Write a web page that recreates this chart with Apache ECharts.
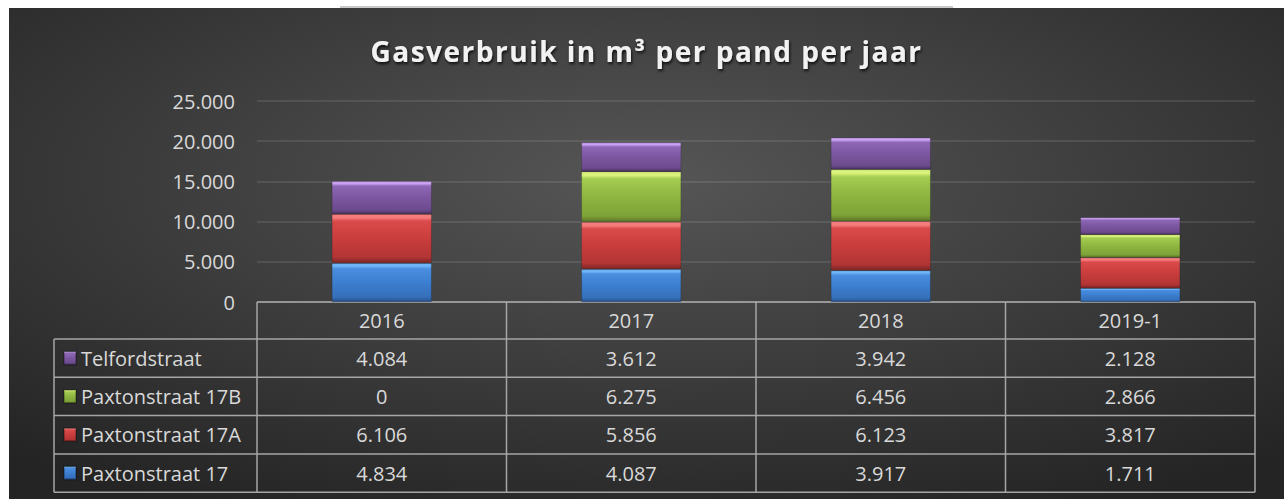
<!DOCTYPE html>
<html>
<head>
<meta charset="utf-8">
<script src="https://cdn.jsdelivr.net/npm/echarts@6/dist/echarts.min.js"></script>
<style>
  html, body { margin: 0; padding: 0; background: #fff; }
  #topline { position: absolute; left: 340px; top: 6px; width: 613px; height: 2px; background: #c9c9c9; }
  #main { position: absolute; left: 9px; top: 8px; width: 1275px; height: 491px; }
</style>
</head>
<body>
<div id="topline"></div>
<div id="main"></div>
<script>
// gegevens
const title = 'Gasverbruik in m³ per pand per jaar'
const categories = ['2016', '2017', '2018', '2019-1']
const telfordstraat = [4084, 3612, 3942, 2128]
const paxton17B = [0, 6275, 6456, 2866]
const paxton17A = [6106, 5856, 6123, 3817]
const paxton17 = [4834, 4087, 3917, 1711]
const yTicks = { min: 0, max: 25000, interval: 5000 }

// volgorde in de tabel (van boven naar beneden)
const tableRows = [
  { name: 'Telfordstraat', values: telfordstraat },
  { name: 'Paxtonstraat 17B', values: paxton17B },
  { name: 'Paxtonstraat 17A', values: paxton17A },
  { name: 'Paxtonstraat 17', values: paxton17 }
]

// layout
const gridLeft = 248
const gridRight = 29
const gridTop = 93
const gridBottom = 197
const chartW = 1275
const chartH = 491
const headerH = 37
const rowH = 38.3
const tableLeft = 45
const labelColor = '#d9d9d9'
const lineColor = '#a6a6a6'
const font = 'Open Sans'

function nl(n) {
  return String(n).replace(/\B(?=(\d{3})+(?!\d))/g, '.')
}

function bevel(c) {
  return new echarts.graphic.LinearGradient(0, 0, 0, 1, [
    { offset: 0, color: c[0] },
    { offset: 0.07, color: c[0] },
    { offset: 0.14, color: c[1] },
    { offset: 0.5, color: c[2] },
    { offset: 0.88, color: c[3] },
    { offset: 1, color: c[4] }
  ])
}

const colors = {
  'Paxtonstraat 17': ['#6fb4f7', '#4a8ee0', '#3c7ecf', '#356fba', '#264f8a'],
  'Paxtonstraat 17A': ['#f47c7c', '#db4a4a', '#c93d3d', '#b33535', '#7f2525'],
  'Paxtonstraat 17B': ['#d9f27c', '#a5cd52', '#8eb640', '#7fa338', '#5b7527'],
  'Telfordstraat': ['#c9a0f2', '#8f67b6', '#7c57a1', '#6d4b8e', '#4d3566']
}

var myChart = echarts.init(document.getElementById('main'), null, { renderer: 'svg' })

// series van onder naar boven
const seriesList = [
  ['Paxtonstraat 17', paxton17],
  ['Paxtonstraat 17A', paxton17A],
  ['Paxtonstraat 17B', paxton17B],
  ['Telfordstraat', telfordstraat]
].map(([name, data]) => ({
  name: name,
  type: 'bar',
  stack: 'gas',
  barWidth: '40%',
  data: data,
  itemStyle: { color: bevel(colors[name]), borderColor: 'rgba(0,0,0,0.25)', borderWidth: 0.6 }
}))

// x-assen: kop + een rij per pand
const headerCenter = headerH / 2
const xAxes = [{
  type: 'category',
  data: categories,
  position: 'bottom',
  axisLine: { show: false },
  axisTick: { show: false },
  axisLabel: { color: labelColor, fontFamily: font, fontSize: 20, lineHeight: 20, margin: headerCenter - 10 }
}].concat(tableRows.map((row, k) => ({
  type: 'category',
  data: categories,
  position: 'bottom',
  offset: headerH + rowH * k + rowH / 2 - headerCenter,
  axisLine: { show: false },
  axisTick: { show: false },
  axisLabel: {
    color: labelColor, fontFamily: font, fontSize: 20, lineHeight: 20, margin: headerCenter - 10,
    formatter: (v, i) => nl(row.values[i])
  }
})))

// tabelranden
const x0 = gridLeft
const x1 = chartW - gridRight
const yTop = chartH - gridBottom
const yHead = yTop + headerH
const yEnd = yHead + rowH * tableRows.length
const colW = (x1 - x0) / categories.length
const lines = []
const ls = { stroke: lineColor, lineWidth: 1.5 }
lines.push({ type: 'line', shape: { x1: x0, y1: yTop, x2: x1, y2: yTop }, style: ls })
for (let k = 0; k <= tableRows.length; k++) {
  const y = yHead + rowH * k
  lines.push({ type: 'line', shape: { x1: tableLeft, y1: y, x2: x1, y2: y }, style: ls })
}
lines.push({ type: 'line', shape: { x1: tableLeft, y1: yHead, x2: tableLeft, y2: yEnd }, style: ls })
for (let i = 0; i <= categories.length; i++) {
  const x = x0 + colW * i
  lines.push({ type: 'line', shape: { x1: x, y1: yTop, x2: x, y2: yEnd }, style: ls })
}

const option = {
  animation: false,
  backgroundColor: new echarts.graphic.RadialGradient(0.5, 0.35, 0.75, [
    { offset: 0, color: '#565656' },
    { offset: 1, color: '#242424' }
  ]),
  title: {
    text: title,
    left: 'center',
    top: 24,
    textStyle: {
      color: '#f2f2f2',
      fontFamily: font,
      fontSize: 28,
      fontWeight: 'bold',
      textShadowColor: 'rgba(0,0,0,0.8)',
      textShadowBlur: 3,
      textShadowOffsetX: 1,
      textShadowOffsetY: 2
    }
  },
  legend: {
    data: tableRows.map(r => r.name),
    orient: 'vertical',
    left: 54,
    top: yHead + rowH / 2 - 10,
    padding: 0,
    itemWidth: 12,
    itemHeight: 13,
    itemGap: rowH - 20,
    icon: 'rect',
    selectedMode: false,
    textStyle: { color: labelColor, fontFamily: font, fontSize: 20 }
  },
  grid: { left: gridLeft, right: gridRight, top: gridTop, bottom: gridBottom },
  xAxis: xAxes,
  yAxis: {
    type: 'value',
    min: yTicks.min,
    max: yTicks.max,
    interval: yTicks.interval,
    axisLine: { show: false },
    axisTick: { show: false },
    splitLine: { lineStyle: { color: 'rgba(255,255,255,0.13)', width: 1.5 } },
    axisLabel: { color: labelColor, fontFamily: font, fontSize: 20, margin: 22, formatter: v => nl(v) }
  },
  graphic: lines,
  series: seriesList
}

myChart.setOption(option)

// letterafstand van de titel (svg)
function spaceTitle() {
  document.querySelectorAll('#main text').forEach(t => {
    if (t.textContent === title) t.style.letterSpacing = '1.5px'
  })
}
myChart.on('finished', spaceTitle)
spaceTitle()
</script>
</body>
</html>
